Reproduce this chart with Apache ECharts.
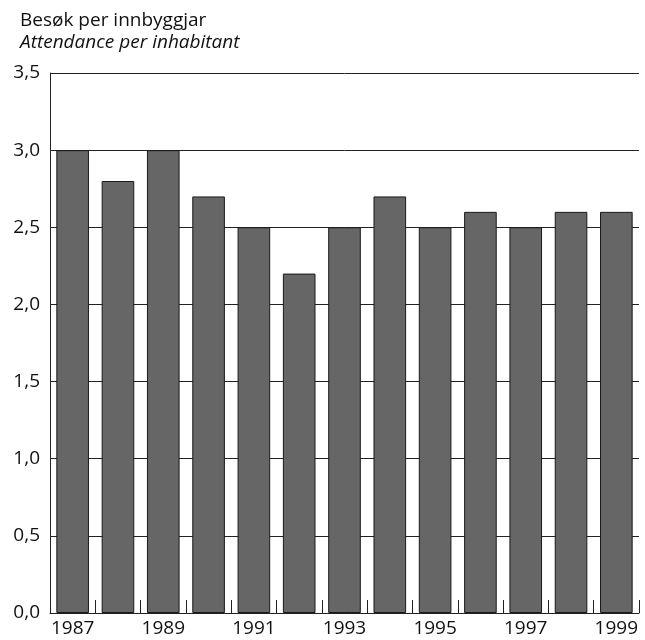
<!DOCTYPE html>
<html><head><meta charset="utf-8">
<script src="https://cdn.jsdelivr.net/npm/echarts@6/dist/echarts.min.js"></script>
<style>html,body{margin:0;padding:0;background:#fff}#c{width:645px;height:640px}</style>
</head><body><div id="c"></div>
<script>
const years = ['1987','1988','1989','1990','1991','1992','1993','1994','1995','1996','1997','1998','1999'];
const attendance = [3.0, 2.8, 3.0, 2.7, 2.5, 2.2, 2.5, 2.7, 2.5, 2.6, 2.5, 2.6, 2.6];
const titleNo = 'Besøk per innbyggjar';
const titleEn = 'Attendance per inhabitant';
const FONT = '"Open Sans", "Noto Sans", sans-serif';
const chart = echarts.init(document.getElementById('c'));
chart.setOption({
  animation: false,
  textStyle: {fontFamily: FONT},
  graphic: [
    {type: 'text', left: 20, top: 11, style: {text: titleNo, font: '19px ' + FONT, fill: '#111'}},
    {type: 'text', left: 20, top: 33, style: {text: titleEn, font: 'italic 19px ' + FONT, fill: '#111'}}
  ],
  grid: {left: 50, right: 6, top: 73, bottom: 27, containLabel: false},
  xAxis: {
    type: 'category', data: years, boundaryGap: true,
    axisLine: {lineStyle: {color: '#222', width: 1}},
    axisTick: {show: true, inside: true, length: 13, interval: 0, lineStyle: {color: '#222'}},
    axisLabel: {interval: 1, color: '#111', fontSize: 19, margin: 6, fontFamily: FONT}
  },
  yAxis: {
    type: 'value', min: 0, max: 3.5, interval: 0.5,
    axisLine: {show: true, lineStyle: {color: '#222', width: 1}},
    axisTick: {show: false},
    splitLine: {show: true, lineStyle: {color: '#222', width: 1}},
    axisLabel: {color: '#111', fontSize: 19, margin: 10, fontFamily: FONT, padding: [5, 0, 0, 0],
      formatter: v => v.toFixed(1).replace('.', ',')}
  },
  series: [{
    type: 'bar', data: attendance, barCategoryGap: '28%',
    itemStyle: {color: '#666666', borderColor: '#1a1a1a', borderWidth: 1}
  }]
});
</script></body></html>
